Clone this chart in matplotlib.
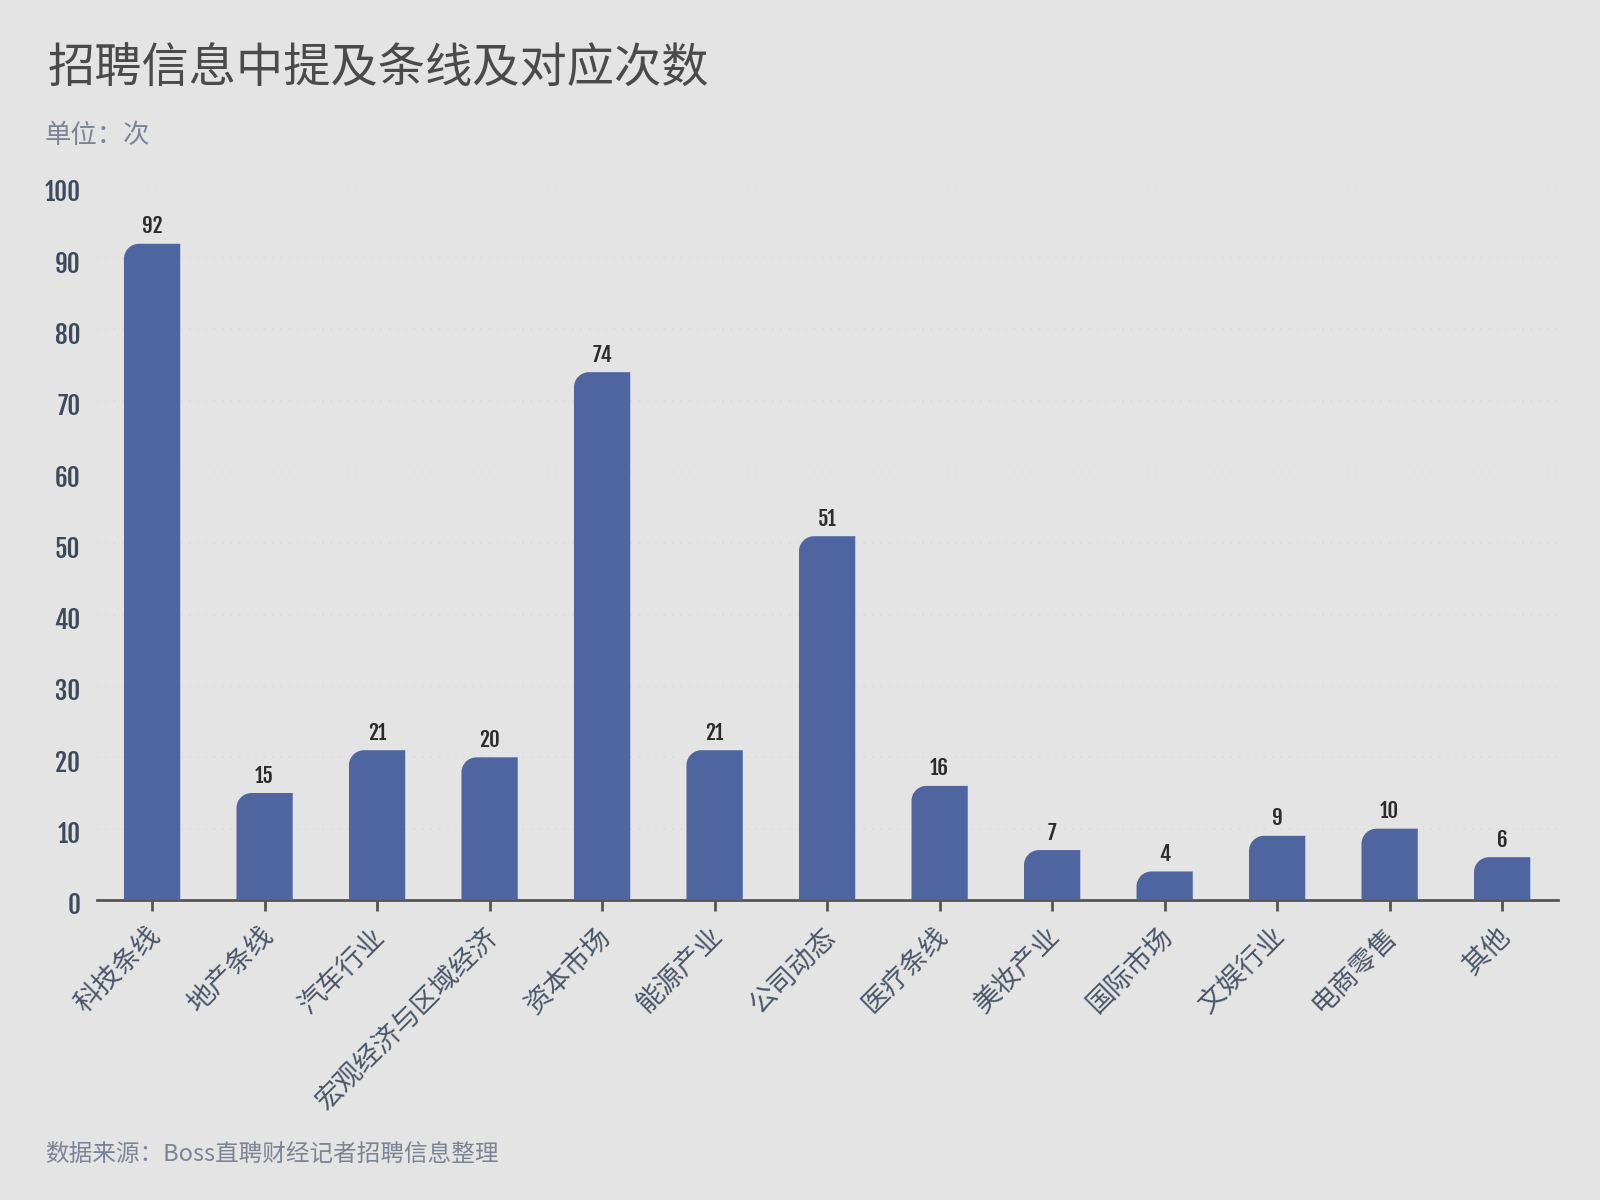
import numpy as np
import matplotlib as mp
mp.use('Agg')
import matplotlib.pyplot as plt
import matplotlib.transforms as mtrans
from matplotlib.path import Path
from matplotlib.patches import PathPatch

plt.rcParams['font.family'] = ['Noto Sans CJK SC', 'DejaVu Sans']

categories = ["科技条线", "地产条线", "汽车行业", "宏观经济与区域经济", "资本市场", "能源产业",
              "公司动态", "医疗条线", "美妆产业", "国际市场", "文娱行业", "电商零售", "其他"]
counts = [92, 15, 21, 20, 74, 21, 51, 16, 7, 4, 9, 10, 6]
yticks = [0, 10, 20, 30, 40, 50, 60, 70, 80, 90, 100]

title = "招聘信息中提及条线及对应次数"
unit = "单位：次"
source = "数据来源：Boss直聘财经记者招聘信息整理"

bg = "#e4e4e4"
bar_col = "#4f65a0"
num_font = ['Fjalla One', 'Oswald', 'DejaVu Sans']

fig = plt.figure(figsize=(16, 12), dpi=100, facecolor=bg)
ax = fig.add_axes([0.0606, 0.25, 0.9134, 0.5944])
ax.set_facecolor(bg)

x = np.arange(len(categories))
bars = ax.bar(x, counts, width=0.5, color=bar_col, zorder=3)
ax.set_xlim(-0.49, len(categories) - 0.5)
ax.set_ylim(0, 100)

# swap each bar for one with a rounded top-left corner
fig.canvas.draw()
bb = ax.get_window_extent()
px_x = bb.width / (ax.get_xlim()[1] - ax.get_xlim()[0])
px_y = bb.height / (ax.get_ylim()[1] - ax.get_ylim()[0])
r_px = 15
for b in bars:
    x0, y0 = b.get_x(), b.get_y()
    w, h = b.get_width(), b.get_height()
    rx = min(r_px / px_x, w / 2)
    ry = min(r_px / px_y, h)
    k = 0.5523
    verts = [(x0, y0), (x0 + w, y0), (x0 + w, y0 + h), (x0 + rx, y0 + h),
             (x0 + rx - k * rx, y0 + h), (x0, y0 + h - ry + k * ry), (x0, y0 + h - ry),
             (x0, y0)]
    codes = [Path.MOVETO, Path.LINETO, Path.LINETO, Path.LINETO,
             Path.CURVE4, Path.CURVE4, Path.CURVE4, Path.CLOSEPOLY]
    ax.add_patch(PathPatch(Path(verts, codes), facecolor=bar_col, edgecolor='none', zorder=3))
    b.set_visible(False)
    ax.text(x0 + w / 2, y0 + h + 0.9, str(int(h)), ha='center', va='bottom',
            fontsize=15, color="#2b2b2b", family=num_font)

ax.set_yticks(yticks)
ax.set_yticklabels([str(v) for v in yticks], family=num_font,
                   fontsize=18, color="#3d4a5c")
ax.tick_params(axis='y', length=0, pad=12)
yshift = mtrans.ScaledTranslation(0, -2.5 / 72, fig.dpi_scale_trans)
for lbl in ax.get_yticklabels():
    lbl.set_transform(lbl.get_transform() + yshift)
ax.set_xticks(x)
ax.set_xticklabels(categories, rotation=45, ha='right', va='center', rotation_mode='anchor',
                   fontsize=19.5, color="#4a5568")
ax.tick_params(axis='x', length=8, width=2, color="#555555", pad=12)
shift = mtrans.ScaledTranslation(3 / 72, -3 / 72, fig.dpi_scale_trans)
for lbl in ax.get_xticklabels():
    lbl.set_transform(lbl.get_transform() + shift)

for s in ['top', 'right', 'left']:
    ax.spines[s].set_visible(False)
ax.spines['bottom'].set_color("#555555")
ax.spines['bottom'].set_linewidth(2)
ax.yaxis.grid(True, linestyle=(0, (1, 4)), color="#d6dede", linewidth=1.2, zorder=0)
ax.set_axisbelow(True)

fig.text(0.030, 0.942, title, fontsize=34, color="#4a4a4a", va='center', ha='left')
fig.text(0.028, 0.887, unit, fontsize=19, color="#7b8494", va='center', ha='left')
fig.text(0.028, 0.038, source, fontsize=17, color="#7b8494", va='center', ha='left')

plt.savefig("out.png", dpi=100, facecolor=bg)
